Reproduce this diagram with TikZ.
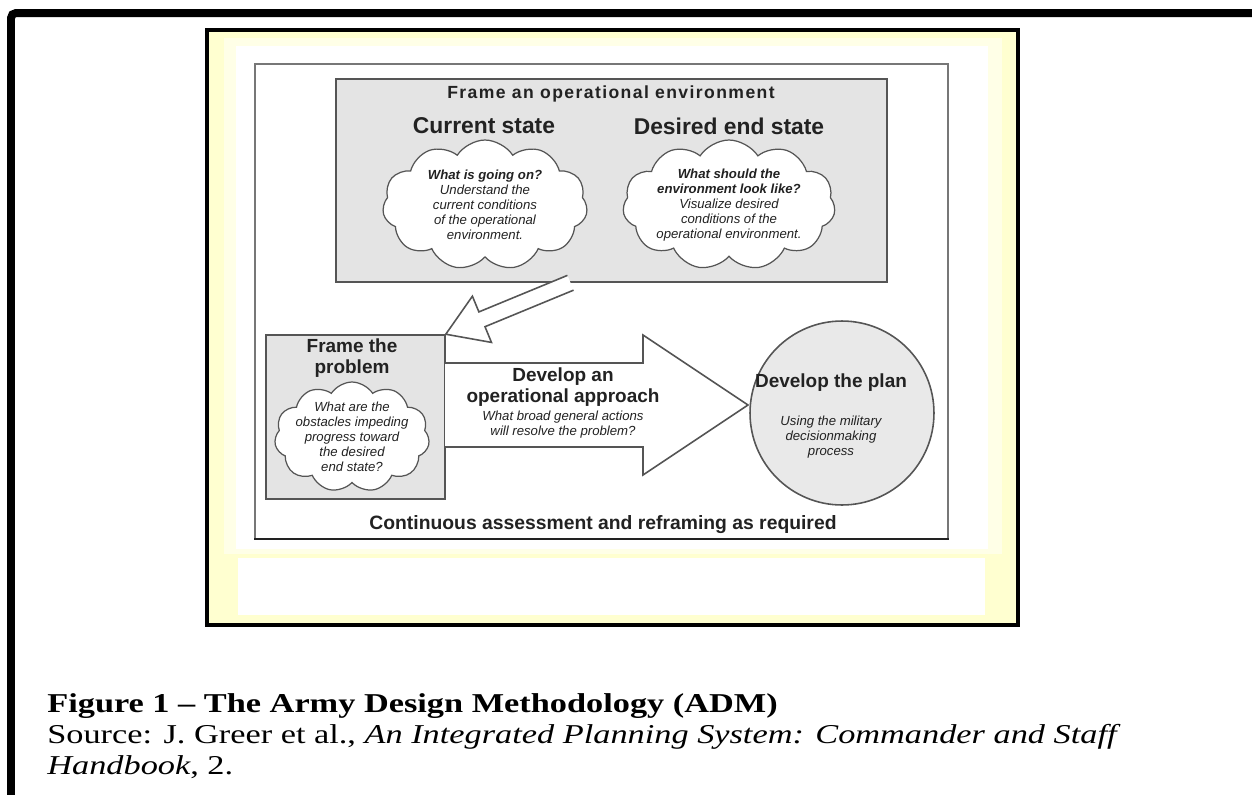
\documentclass[tikz,border=0pt]{standalone}
\usepackage{fontspec}
\setmainfont{Liberation Sans}
\newfontfamily\capfont[FakeStretch=1.26,Ligatures=TeX]{Liberation Serif}
\newfontfamily\widefont[LetterSpace=8]{Liberation Sans}
\usetikzlibrary{shapes.symbols,calc}
\definecolor{boxgray}{HTML}{E4E4E4}
\definecolor{linegray}{HTML}{555555}
\definecolor{paleyellow}{HTML}{FFFFD0}
\definecolor{inkgray}{HTML}{222222}

\begin{document}
\begin{tikzpicture}[x=0.02cm,y=-0.02cm,
  graybox/.style={draw=linegray,fill=boxgray,line width=0.9pt,inner sep=0pt},
  puff/.style={cloud,cloud puffs=11,cloud puff arc=115,draw=linegray,fill=white,line width=0.7pt,inner sep=0pt,cloud ignores aspect},
  puffText/.style={align=center,text=inkgray,font=\fontsize{7.5}{8.6}\selectfont\itshape},
  heading/.style={text=inkgray,font=\fontsize{13}{15}\selectfont\bfseries},
  subhead/.style={text=inkgray,align=center,font=\fontsize{10.8}{11.6}\selectfont\bfseries},
  arrowline/.style={draw=linegray,line width=0.9pt,fill=white,line join=miter},
  caption/.style={anchor=base west,inner sep=0pt,font=\capfont\fontsize{15.5}{18}\selectfont}]
\useasboundingbox (0,0) rectangle (1252,795);
% page frame and picture frame
\draw[line width=0.16cm,rounded corners=0.1cm] (11,820) -- (11,13) -- (1270,13);
\fill[paleyellow] (207,30) rectangle (1018,625);
\fill[white,opacity=.5] (224,38) rectangle (1002,554);
\fill[white] (236,46) rectangle (988,549);
\fill[white] (238,558) rectangle (985,615);
\draw[line width=0.08cm] (207,30) rectangle (1018,625);

% outer design frame
\draw[draw=linegray!80,line width=0.9pt] (255,539) -- (255,64) -- (948,64) -- (948,539);
\draw[draw=inkgray,line width=1.4pt] (254,539) -- (949,539);
\node[text=inkgray,font=\fontsize{11}{13}\selectfont\bfseries] (reframe) at (603,525) {Continuous assessment and reframing as required};

% frame an operational environment
\node[graybox,minimum width=11.02cm,minimum height=4.06cm] (env) at (611.5,180.5) {};
\node[text=inkgray,font=\widefont\fontsize{10}{12}\selectfont\bfseries] (envtitle) at (611,94) {Frame an operational environment};
\node[heading] (curhead) at (484,126) {Current state};
\node[heading] (deshead) at (729,126) {Desired end state};
\node[puff,minimum width=4.1cm,minimum height=2.6cm] (cur) at (485,205) {};
\node[puff,minimum width=4.25cm,minimum height=2.6cm] (des) at (729,205) {};
\node[puffText] (curtxt) at (cur) {\textbf{What is going on?}\\Understand the\\current conditions\\of the operational\\environment.};
\node[puffText] (destxt) at (des) {\textbf{What should the}\\\textbf{environment look like?}\\Visualize desired\\conditions of the\\operational environment.};

% frame the problem
\node[graybox,minimum width=3.58cm,minimum height=3.28cm] (prob) at (355.5,417) {};
\node[subhead] (probhead) at (352,358) {Frame the\\problem};
\node[puff,minimum width=3.1cm,minimum height=2.2cm] (pc) at (352,437) {};
\node[puffText] (pctxt) at (pc) {What are the\\obstacles impeding\\progress toward\\the desired\\end state?};

% develop the plan
\node[draw=linegray,fill=boxgray!80,line width=0.9pt,circle,minimum size=3.68cm,inner sep=0pt] (plan) at (842,413) {};
\node[subhead] (planhead) at (831,383) {Develop the plan};
\node[puffText] (plantxt) at (831,437) {Using the military\\decisionmaking\\process};

% develop an operational approach
\draw[arrowline] (445,363) -- (643,363) -- (643,335) -- (748,405) -- (643,475) -- (643,447) -- (445,447);
\node[subhead] (appr) at (563,387) {Develop an\\operational approach};
\node[puffText] (apprtxt) at (563,425) {What broad general actions\\will resolve the problem?};

% hollow arrow down to the problem
\coordinate (tail) at ($(env.south)+(-41,0)$);
\coordinate (tip) at (prob.north east);
\coordinate (hb) at ($(tail)!0.71!(tip)$);
\draw[arrowline] ($(tail)!0.16cm!-90:(tip)$) -- ($(hb)!0.16cm!-90:(tip)$) -- ($(hb)!0.5cm!-90:(tip)$) -- (tip)
  -- ($(hb)!0.5cm!90:(tip)$) -- ($(hb)!0.16cm!90:(tip)$) -- ($(tail)!0.16cm!90:(tip)$);

% caption
\node[caption] (cap1) at (47,712) {\bfseries Figure 1 – The Army Design Methodology (ADM)};
\node[caption] (cap2) at (47,743) {Source: J. Greer et al., \textit{An Integrated Planning System: Commander and Staff}};
\node[caption] (cap3) at (47,774) {\textit{Handbook}, 2.};
\end{tikzpicture}
\end{document}
